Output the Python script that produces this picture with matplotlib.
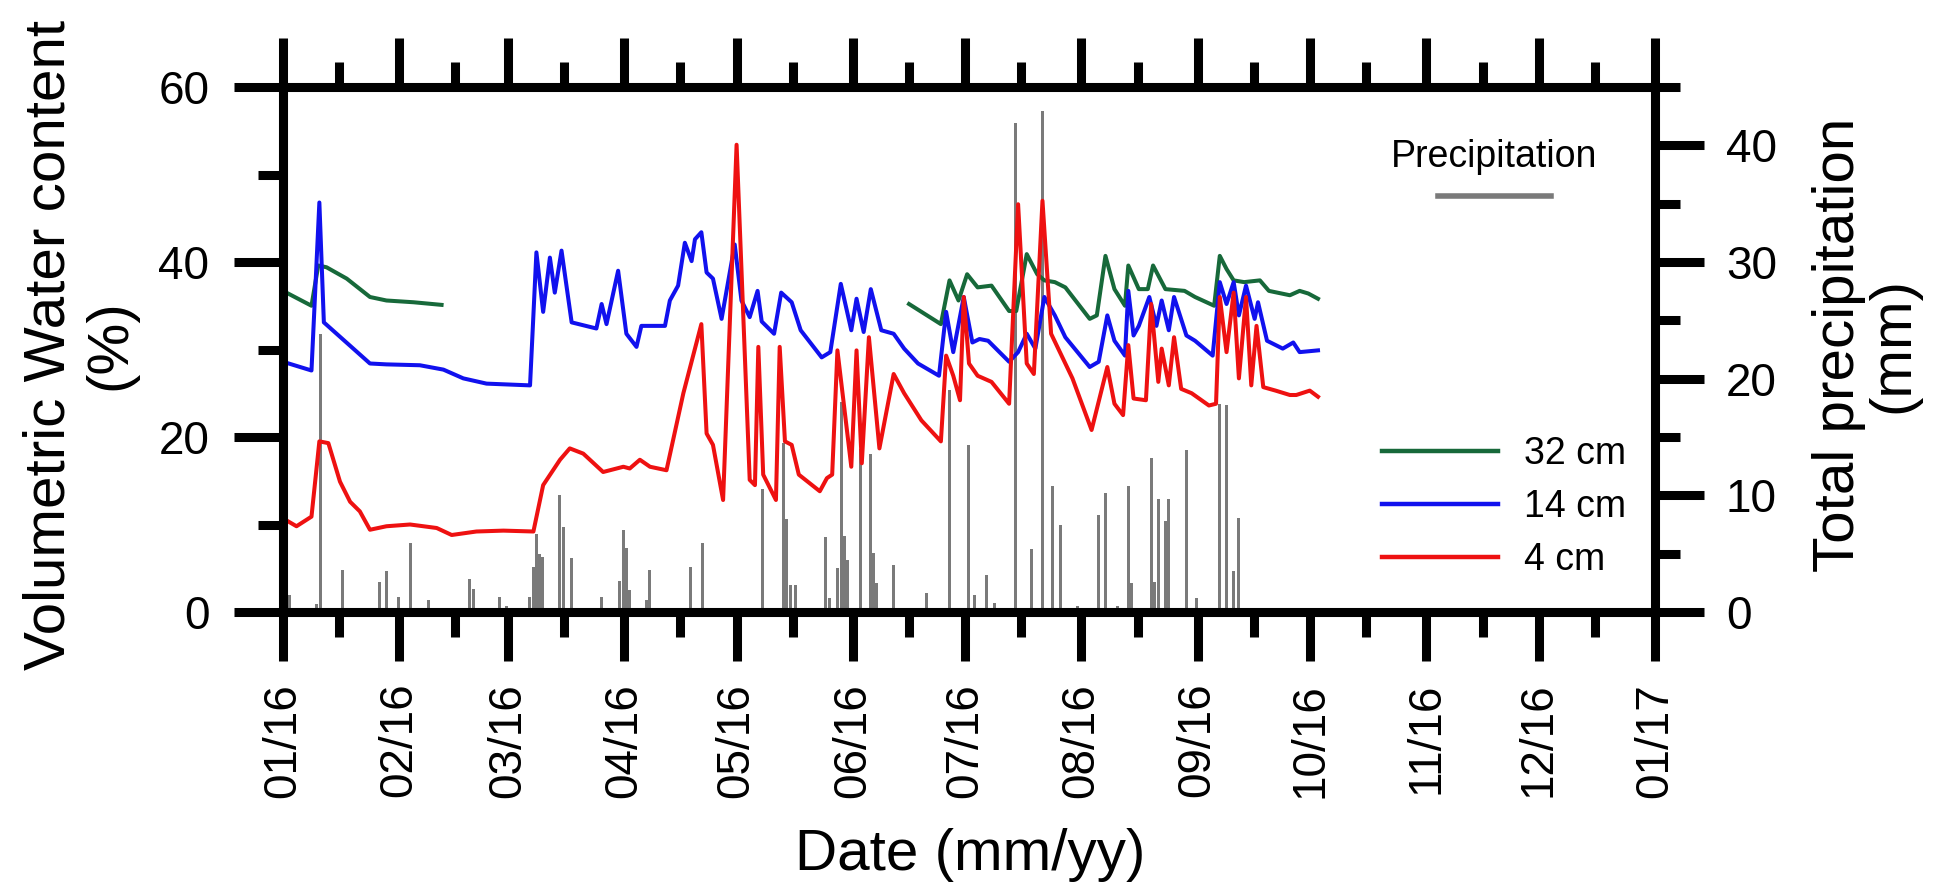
import matplotlib
matplotlib.use("Agg")
import matplotlib.pyplot as plt
import matplotlib.dates as mdates
from matplotlib.lines import Line2D
from matplotlib.ticker import MultipleLocator
import numpy as np
import pandas as pd

plt.rcParams['font.family'] = ['Liberation Sans', 'DejaVu Sans']

start = pd.Timestamp("2016-01-01")

# day offsets from 01/01/2016, soil water content (%)
green_day = [0, 7.6, 9.4, 11.6, 17.0, 23.2, 27.6, 34.8, 42.3, 100,
             167.0, 175.5, 177.8, 180.2, 182.5, 185.3, 189.0, 193.7, 195.6, 198.4,
             201.2, 203.1, 205.9, 208.7, 215.2, 217.1, 219.4, 221.8, 224.6, 225.5,
             228.3, 230.7, 232.1, 235.4, 240.5, 243.3, 248.4, 249.9, 251.7, 253.6,
             256.4, 260.6, 263.0, 268.6, 271.2, 273.5, 276.1]
green_vwc = [36.7, 35.0, 39.6, 39.4, 38.1, 36.0, 35.6, 35.4, 35.1, np.nan,
             35.2, 32.9, 37.9, 35.6, 38.6, 37.1, 37.3, 34.4, 34.4, 40.9,
             38.6, 37.9, 37.7, 37.1, 33.5, 33.9, 40.7, 36.9, 35.0, 39.6,
             36.9, 36.9, 39.6, 36.9, 36.7, 36.0, 35.0, 40.7, 39.2, 37.9,
             37.7, 37.9, 36.7, 36.2, 36.7, 36.4, 35.8]

blue_day = [0, 7.6, 9.7, 10.9, 23.2, 27.6, 36.5, 42.8, 48.1, 54.3,
            65.9, 67.6, 69.4, 71.2, 72.5, 74.3, 77.0, 83.6, 85.0, 86.3,
            89.4, 91.6, 94.3, 95.6, 101.9, 103.2, 105.4, 107.2, 109.0, 109.9,
            111.6, 113.0, 114.7, 117.0, 120.5, 122.3, 124.5, 126.6, 127.7, 131.0,
            132.9, 135.7, 138.1, 143.7, 146.0, 148.8, 151.6, 153.0, 154.9, 156.8,
            159.6, 162.9, 165.7, 169.4, 175.0, 176.9, 178.8, 181.6, 183.9, 185.8,
            188.1, 193.7, 196.1, 198.4, 200.7, 203.1, 205.9, 208.7, 215.2, 217.6,
            219.9, 221.8, 224.6, 225.5, 226.9, 228.3, 231.1, 233.0, 234.4, 236.3,
            237.7, 241.0, 243.3, 248.0, 249.9, 251.7, 253.6, 255.0, 256.9, 259.2,
            260.1, 262.5, 266.7, 269.5, 271.2, 276.1]
blue_vwc = [28.6, 27.6, 46.8, 33.1, 28.4, 28.3, 28.2, 27.7, 26.7, 26.1,
            25.9, 41.1, 34.3, 40.5, 36.5, 41.3, 33.1, 32.4, 35.2, 32.9,
            39.0, 31.8, 30.3, 32.7, 32.7, 35.6, 37.3, 42.2, 40.1, 42.6,
            43.4, 38.8, 38.1, 33.5, 42.0, 35.6, 33.7, 36.7, 33.2, 31.8,
            36.5, 35.4, 32.2, 29.1, 29.7, 37.5, 32.2, 35.8, 32.0, 36.9,
            32.2, 31.8, 30.1, 28.4, 27.0, 34.3, 29.7, 36.0, 30.8, 31.2,
            31.0, 28.6, 29.7, 31.8, 30.1, 36.0, 33.9, 31.4, 28.0, 28.6,
            33.9, 31.0, 29.3, 36.7, 31.6, 32.7, 36.0, 32.7, 35.6, 32.2,
            36.0, 31.6, 31.0, 29.3, 37.7, 35.2, 37.7, 33.9, 37.3, 33.5,
            35.4, 31.0, 30.1, 30.8, 29.7, 29.9]

red_day = [0, 3.6, 7.6, 9.7, 12.1, 15.2, 17.9, 20.5, 23.2, 27.6,
           33.9, 41.0, 45.0, 51.6, 58.8, 66.8, 69.4, 73.9, 76.5, 80.1,
           85.4, 90.8, 92.5, 95.2, 97.9, 102.3, 106.8, 111.6, 113.0, 114.7,
           117.4, 121.0, 124.5, 125.9, 126.8, 128.1, 131.5, 132.5, 133.9, 135.7,
           137.6, 143.2, 145.1, 146.5, 147.9, 151.6, 153.0, 154.4, 156.3, 159.1,
           162.9, 165.7, 170.3, 175.5, 176.9, 178.8, 180.6, 181.6, 183.0, 185.3,
           189.0, 193.7, 196.1, 198.4, 200.3, 202.6, 204.9, 206.8, 210.6, 215.7,
           219.9, 221.8, 224.1, 225.5, 226.9, 230.2, 231.6, 233.5, 234.4, 236.3,
           237.7, 239.6, 242.4, 247.0, 248.9, 249.9, 251.7, 253.6, 255.0, 256.9,
           258.3, 259.7, 261.5, 264.8, 268.6, 270.3, 273.9, 276.1]
red_vwc = [10.7, 9.8, 10.9, 19.5, 19.3, 14.9, 12.6, 11.5, 9.4, 9.8,
           10.0, 9.6, 8.8, 9.2, 9.3, 9.2, 14.5, 17.4, 18.7, 18.1,
           16.0, 16.6, 16.4, 17.4, 16.6, 16.2, 25.0, 32.9, 20.4, 19.1,
           12.8, 53.4, 15.1, 14.5, 30.3, 15.7, 12.8, 30.3, 19.5, 19.1,
           15.7, 13.8, 15.3, 15.7, 29.9, 16.6, 29.9, 17.0, 31.4, 18.7,
           27.2, 25.0, 21.9, 19.5, 29.3, 27.0, 24.2, 36.0, 28.4, 27.0,
           26.3, 23.8, 46.6, 28.4, 27.2, 47.0, 31.8, 30.1, 26.7, 20.8,
           28.0, 23.8, 22.5, 30.5, 24.4, 24.2, 35.2, 26.3, 30.1, 25.9,
           31.4, 25.5, 25.0, 23.6, 23.8, 36.0, 29.7, 36.5, 26.7, 36.0,
           25.9, 32.7, 25.7, 25.3, 24.8, 24.8, 25.3, 24.6]

# daily precipitation (mm)
precip_day = [1.8, 8.9, 10.0, 16.0, 25.8, 27.7, 30.7, 34.0, 38.7, 49.8,
              50.8, 57.8, 59.6, 65.8, 66.8, 67.7, 68.4, 69.2, 73.8, 74.9,
              76.9, 84.9, 89.8, 90.7, 91.7, 92.4, 96.9, 97.8, 108.6, 112.0,
              128.0, 133.5, 134.3, 135.3, 136.7, 144.8, 145.8, 148.0, 149.0, 149.9,
              150.5, 154.0, 156.8, 157.5, 158.3, 162.9, 171.7, 177.7, 182.8, 184.6,
              187.6, 189.9, 195.5, 199.8, 202.7, 205.4, 207.3, 212.0, 217.6, 219.5,
              222.5, 225.5, 226.4, 231.6, 232.5, 233.5, 235.4, 236.3, 241.0, 243.8,
              249.7, 251.8, 253.6, 255.0]
precip_mm = [1.5, 0.7, 23.8, 3.6, 2.6, 3.5, 1.3, 5.9, 1.0, 2.8,
             2.0, 1.3, 0.5, 1.3, 3.9, 6.7, 5.0, 4.7, 10.0, 7.3,
             4.6, 1.3, 2.7, 7.0, 5.5, 1.9, 1.0, 3.6, 3.9, 5.9,
             10.5, 14.5, 8.0, 2.3, 2.3, 6.4, 1.2, 3.8, 18.0, 6.5,
             4.5, 14.0, 13.5, 5.1, 2.5, 4.0, 1.6, 19.0, 14.3, 1.5,
             3.2, 0.8, 41.9, 5.4, 42.9, 10.8, 7.5, 0.5, 8.3, 10.2,
             0.5, 10.8, 2.5, 13.2, 2.6, 9.7, 7.8, 9.7, 13.9, 1.2,
             17.8, 17.7, 3.5, 8.1]


def to_dates(days):
    return start + pd.to_timedelta(np.asarray(days), unit="D")


fig = plt.figure(figsize=(19.35, 8.91), dpi=100)
ax = fig.add_axes([283 / 1935, 1 - 612 / 891, 1372 / 1935, 525 / 891])
ax2 = ax.twinx()

ax2.bar(to_dates(precip_day), precip_mm, width=0.8, color="#7a7a7a", linewidth=0)

ax.plot(to_dates(green_day), green_vwc, color="#17693a", lw=2.9, label="32 cm")
ax.plot(to_dates(blue_day), blue_vwc, color="#1111ee", lw=2.9, label="14 cm")
ax.plot(to_dates(red_day), red_vwc, color="#ee1111", lw=2.9, label="4 cm")

ax.set_zorder(ax2.get_zorder() + 1)
ax.patch.set_visible(False)

ax.set_xlim(start, pd.Timestamp("2017-01-01"))
ax.set_ylim(0, 60)
ax2.set_ylim(0, 45)

ax.xaxis.set_major_locator(mdates.MonthLocator())
ax.xaxis.set_minor_locator(mdates.DayLocator(bymonthday=16))
ax.xaxis.set_major_formatter(mdates.DateFormatter("%m/%y"))
ax.yaxis.set_major_locator(MultipleLocator(20))
ax.yaxis.set_minor_locator(MultipleLocator(10))
ax2.yaxis.set_major_locator(MultipleLocator(10))
ax2.yaxis.set_minor_locator(MultipleLocator(5))

for a in (ax, ax2):
    for s in a.spines.values():
        s.set_linewidth(6.5)

ax.tick_params(axis="x", which="both", direction="out", top=True, bottom=True,
               width=6.5, labelsize=33, pad=16, labelrotation=90)
ax.tick_params(axis="x", which="major", length=35)
ax.tick_params(axis="x", which="minor", length=18)
ax.tick_params(axis="y", which="both", direction="out", width=6.5, labelsize=33, pad=18)
ax.tick_params(axis="y", which="major", length=35)
ax.tick_params(axis="y", which="minor", length=18)
ax2.tick_params(axis="y", which="both", direction="out", width=6.5, labelsize=33, pad=16)
ax2.tick_params(axis="y", which="major", length=35)
ax2.tick_params(axis="y", which="minor", length=18)

fig.text(80 / 1935, 1 - 345 / 891, "Volumetric Water content\n(%)", rotation=90,
         ha="center", va="center", fontsize=42, multialignment="center", linespacing=1.15)
fig.text(1866 / 1935, 1 - 345 / 891, "Total precipitation\n(mm)", rotation=90,
         ha="center", va="center", fontsize=42, multialignment="center", linespacing=1.0)
fig.text(970 / 1935, 1 - 855 / 891, "Date (mm/yy)", ha="center", va="center", fontsize=42)

leg1 = ax.legend(loc="upper left", bbox_to_anchor=(0.801, 0.335), frameon=False,
                 fontsize=27, handlelength=3.1, handletextpad=0.7, labelspacing=0.45,
                 borderpad=0, borderaxespad=0)
for h in leg1.get_lines():
    h.set_linewidth(3.2)

leg2 = ax2.legend(handles=[Line2D([], [], color="#7a7a7a", lw=4)], labels=[""],
                  title="Precipitation", title_fontsize=27, fontsize=27,
                  loc="upper center", bbox_to_anchor=(0.883, 0.9), frameon=False,
                  handlelength=3.0, handletextpad=0, borderpad=0, borderaxespad=0,
                  labelspacing=0.15)

fig.savefig("out.png", dpi=100)
